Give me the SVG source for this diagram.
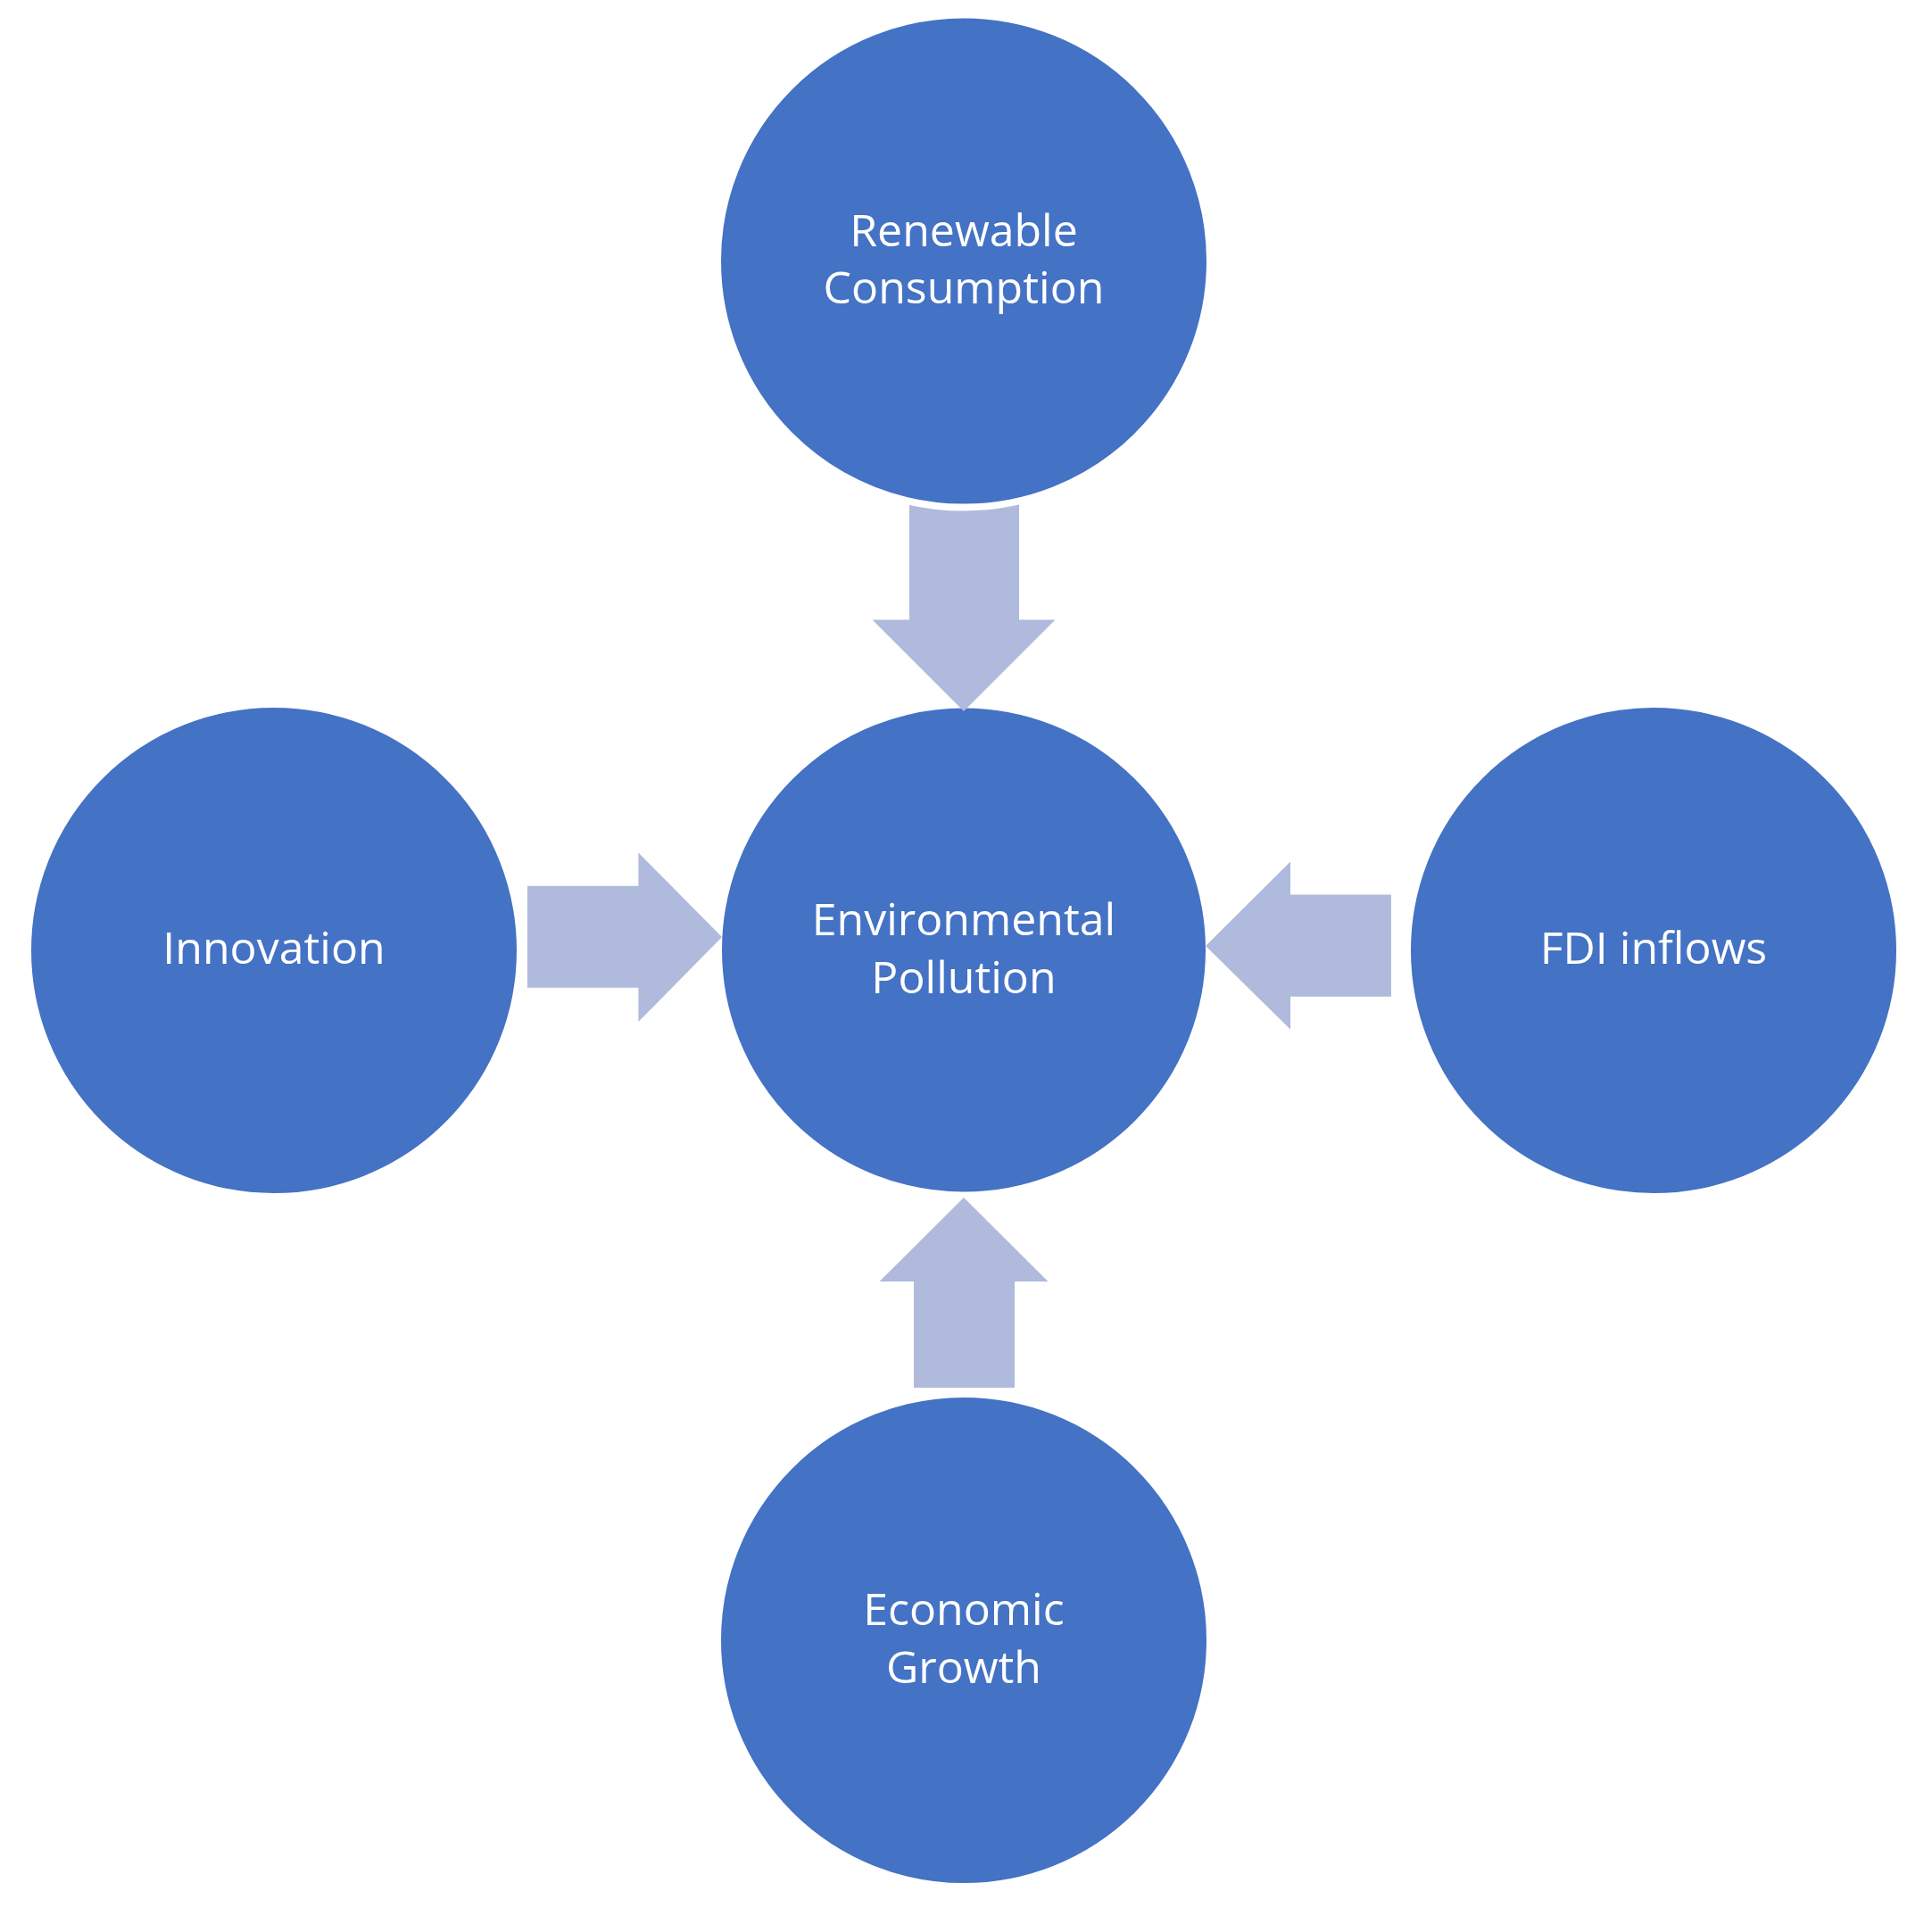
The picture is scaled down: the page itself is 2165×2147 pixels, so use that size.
<svg xmlns="http://www.w3.org/2000/svg" width="2165" height="2147" viewBox="0 0 2165 2147">
<style>
.node{fill:#4472C4;stroke:#FFFFFF;stroke-width:8}
.arrow{fill:#AFBADC;stroke:none}
.label{font-family:"Open Sans","Noto Sans","DejaVu Sans",sans-serif;font-size:50px;fill:#FFFFFF;text-anchor:middle}
</style>
<rect x="0" y="0" width="2165" height="2147" fill="#FFFFFF"/>
<g id="node-center">
<circle class="node" cx="1080" cy="1064.5" r="275"/>
<text class="label" x="1080" y="1048">Environmental</text>
<text class="label" x="1080" y="1112.5">Pollution</text>
</g>
<g id="connectors">
<polygon class="arrow" points="1019,540 1142,540 1142,694.5 1182.5,694.5 1080,797 977.5,694.5 1019,694.5"/>
<polygon class="arrow" points="1080,1342 1174.5,1436 1137,1436 1137,1555 1024,1555 1024,1436 985.5,1436"/>
<polygon class="arrow" points="591,992.7 715.4,992.7 715.4,955.6 809,1050 715.4,1145 715.4,1106.7 591,1106.7"/>
<polygon class="arrow" points="1351,1060 1446,965.5 1446,1002.6 1559,1002.6 1559,1116.7 1446,1116.7 1446,1153.4"/>
</g>
<g id="node-renewable">
<circle class="node" cx="1080" cy="292.5" r="276"/>
<text class="label" x="1080" y="275.5">Renewable</text>
<text class="label" x="1080" y="340">Consumption</text>
</g>
<g id="node-innovation">
<circle class="node" cx="307" cy="1065" r="276"/>
<text class="label" x="307" y="1080">Innovation</text>
</g>
<g id="node-fdi">
<circle class="node" cx="1853" cy="1065" r="276"/>
<text class="label" x="1853" y="1080">FDI inflows</text>
</g>
<g id="node-economic">
<circle class="node" cx="1080" cy="1838" r="276"/>
<text class="label" x="1080" y="1821">Economic</text>
<text class="label" x="1080" y="1886">Growth</text>
</g>
</svg>
